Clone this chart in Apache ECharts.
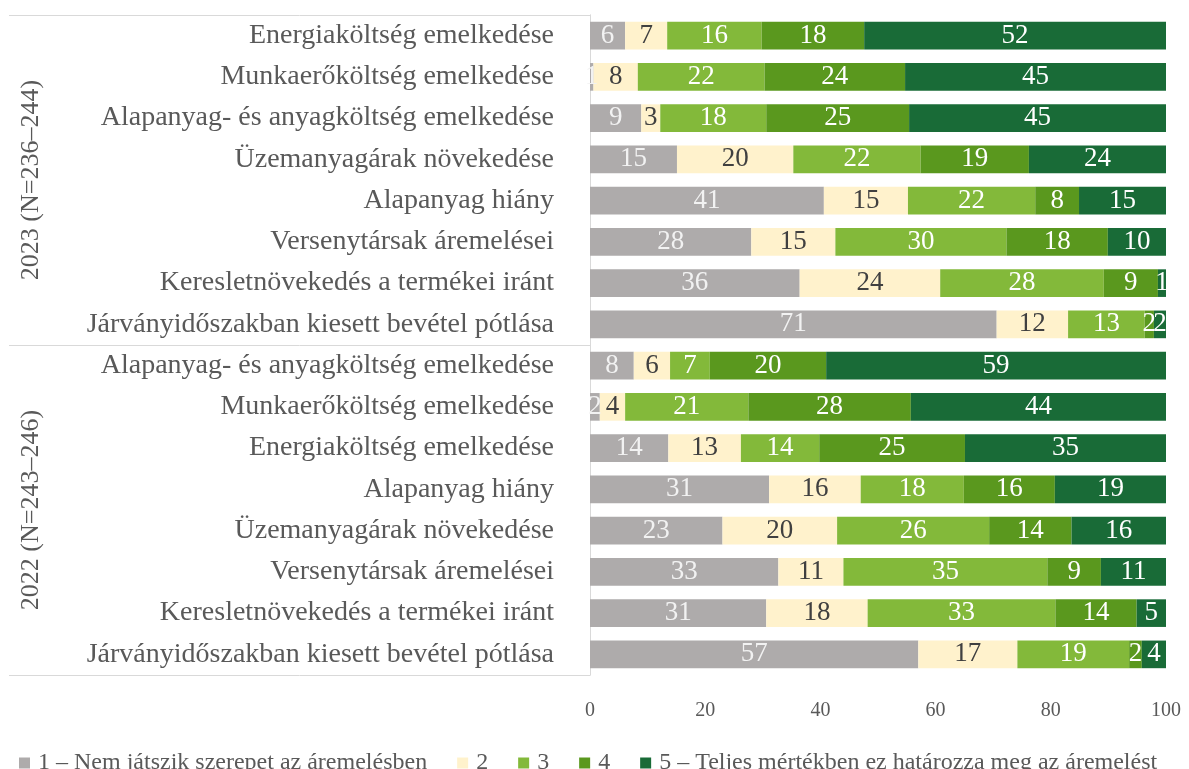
<!DOCTYPE html>
<html lang="hu">
<head>
    <meta charset="UTF-8">
    <title>Áremelés tényezői</title>
    <script src="https://cdn.jsdelivr.net/npm/echarts@6/dist/echarts.min.js"></script>
    <style>
        *{
            margin: 0;
            padding: 0;
        }
        html,body{
            width: 100%;
            height: 100%;
            background: #fff;
        }
        .container{
            width: 1189px;
            height: 769px;
        }
    </style>
</head>
<body>
<div class="container"></div>
<script>
    const FONT = '"Liberation Serif", "DejaVu Serif", serif';

    let groups = ['2023 (N=236–244)', '2022 (N=243–246)'];

    let cats2023 = [
        'Energiaköltség emelkedése',
        'Munkaerőköltség emelkedése',
        'Alapanyag- és anyagköltség emelkedése',
        'Üzemanyagárak növekedése',
        'Alapanyag hiány',
        'Versenytársak áremelései',
        'Keresletnövekedés a termékei iránt',
        'Járványidőszakban kiesett bevétel pótlása'
    ];
    let cats2022 = [
        'Alapanyag- és anyagköltség emelkedése',
        'Munkaerőköltség emelkedése',
        'Energiaköltség emelkedése',
        'Alapanyag hiány',
        'Üzemanyagárak növekedése',
        'Versenytársak áremelései',
        'Keresletnövekedés a termékei iránt',
        'Járványidőszakban kiesett bevétel pótlása'
    ];

    // share of answers (%), rows top to bottom: 2023 first, then 2022
    let level1 = [6.1, 0.6, 8.9, 15.1, 40.6, 28.0, 36.4, 70.6, 7.6, 1.7, 13.6, 31.1, 23.0, 32.7, 30.6, 57.0];
    let level2 = [7.3, 7.7, 3.3, 20.2, 14.6, 14.6, 24.4, 12.4, 6.3, 4.4, 12.6, 15.9, 19.9, 11.3, 17.6, 17.2];
    let level3 = [16.4, 22.0, 18.4, 22.1, 22.1, 29.7, 28.4, 13.3, 6.9, 21.4, 13.6, 17.9, 26.4, 35.4, 32.6, 19.4];
    let level4 = [17.8, 24.4, 24.8, 18.8, 7.6, 17.6, 9.4, 1.6, 20.2, 28.2, 25.3, 15.8, 14.3, 9.3, 14.1, 2.2];
    let level5 = [52.4, 45.3, 44.6, 23.8, 15.1, 10.1, 1.4, 2.1, 59.0, 44.3, 34.9, 19.3, 16.4, 11.3, 5.1, 4.2];

    let levelNames = [
        '1 – Nem játszik szerepet az áremelésben',
        '2',
        '3',
        '4',
        '5 – Teljes mértékben ez határozza meg az áremelést'
    ];
    let xTicks = [0, 20, 40, 60, 80, 100];

    let colors = ['#AEABAB', '#FFF2CC', '#83B93A', '#5A981E', '#196B37'];
    let labelColors = ['#F2F2F2', '#404040', '#FFFFFF', '#FFFFFF', '#FFFFFF'];

    // category names repeat between the two years, so keep them unique with a row index
    let rows = cats2023.concat(cats2022).map((c, i) => i + '|' + c);

    let chart = echarts.init(document.querySelector('.container'));

    let series = [level1, level2, level3, level4, level5].map((vals, k) => ({
        name: levelNames[k],
        type: 'bar',
        stack: 'all',
        yAxisIndex: 0,
        barCategoryGap: '33%',
        data: vals,
        itemStyle: {color: colors[k]},
        label: {
            show: true,
            position: 'inside',
            color: labelColors[k],
            fontFamily: FONT,
            fontSize: 27,
            formatter: p => Math.round(p.value)
        }
    }));

    let option = {
        animation: false,
        color: colors,
        grid: {
            left: 590,
            right: 23,
            top: 15,
            bottom: 94
        },
        xAxis: {
            type: 'value',
            min: xTicks[0],
            max: xTicks[xTicks.length - 1],
            interval: xTicks[1] - xTicks[0],
            axisLine: {show: false},
            axisTick: {show: false},
            splitLine: {show: false},
            axisLabel: {
                margin: 26,
                color: '#595959',
                fontFamily: FONT,
                fontSize: 20
            }
        },
        yAxis: [{
            type: 'category',
            inverse: true,
            data: rows,
            axisLine: {show: true, lineStyle: {color: '#D9D9D9'}},
            axisTick: {show: false},
            axisLabel: {
                margin: 36,
                color: '#595959',
                fontFamily: FONT,
                fontSize: 28,
                interval: 0,
                formatter: v => v.split('|')[1]
            }
        }, {
            type: 'category',
            inverse: true,
            position: 'left',
            data: groups,
            axisLine: {show: true, lineStyle: {color: '#D9D9D9'}},
            axisTick: {show: true, interval: 0, length: 581, lineStyle: {color: '#D9D9D9'}},
            axisLabel: {
                rotate: 90,
                margin: 546,
                color: '#595959',
                fontFamily: FONT,
                fontSize: 26
            }
        }],
        legend: {
            left: 14,
            top: 746,
            itemWidth: 11,
            itemHeight: 11,
            itemGap: 30,
            icon: 'rect',
            textStyle: {
                color: '#595959',
                fontFamily: FONT,
                fontSize: 24,
                padding: [0, 0, 0, 3]
            },
            data: levelNames
        },
        series
    };

    chart.setOption(option);
</script>
</body>
</html>
